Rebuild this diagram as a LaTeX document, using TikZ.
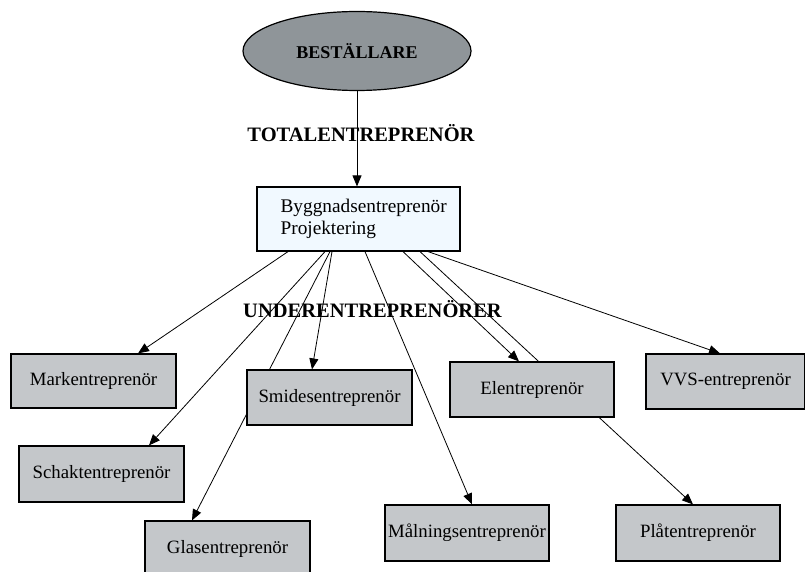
\documentclass[tikz,border=0pt]{standalone}
\usepackage{fontspec}
\setmainfont{Liberation Serif}
\usetikzlibrary{arrows.meta,shapes.geometric,backgrounds}
\definecolor{ovalgray}{RGB}{143,149,153}
\definecolor{boxgray}{RGB}{196,199,202}
\definecolor{paleblue}{RGB}{241,249,255}
\tikzset{
  subbox/.style={draw=black, line width=1.2pt, fill=boxgray, minimum width=165pt,
    minimum height=55pt, inner sep=0pt, font=\fontsize{18.8pt}{22pt}\selectfont},
  heading/.style={font=\bfseries\fontsize{20.5pt}{24pt}\selectfont, inner sep=0pt},
  link/.style={line width=0.8pt},
  linkarrow/.style={link, -{Triangle[length=11pt,width=9pt]}},
}
\begin{document}
\begin{tikzpicture}[x=1pt,y=-1pt]
\useasboundingbox (0,0) rectangle (805,572);
\clip (0,0) rectangle (805,572);

% client and main contractor
\node[ellipse, draw, line width=1.2pt, fill=ovalgray, minimum width=228pt,
  minimum height=79pt, inner sep=0pt,
  font=\bfseries\fontsize{18pt}{20pt}\selectfont] (best) at (357,51) {BESTÄLLARE};
\node[heading] (total) at (361,133) {TOTALENTREPRENÖR};
\node[draw, line width=1.2pt, fill=paleblue, minimum width=203pt,
  minimum height=64pt, inner sep=0pt] (bygg) at (358.5,219) {};
\node[anchor=west, align=left, inner sep=0pt,
  font=\fontsize{19.3pt}{22pt}\selectfont] (byggtext) at ([xshift=24pt]bygg.west)
  {Byggnadsentreprenör\\Projektering};
\node[heading] (under) at (372.5,309) {UNDERENTREPRENÖRER};

% subcontractors
\node[subbox, minimum height=54pt] (mark) at (93.5,381) {Markentreprenör};
\node[subbox, minimum height=56pt] (schakt) at (101.5,474) {Schaktentreprenör};
\node[subbox, minimum height=56pt] (glas) at (227.5,549) {Glasentreprenör};
\node[subbox] (smides) at (329.5,397.5) {Smidesentreprenör};
\node[subbox, minimum width=164pt, minimum height=56pt] (maln) at (467,533) {Målningsentreprenör};
\node[subbox, minimum width=164pt] (elen) at (532,389.5) {Elentreprenör};
\node[subbox, minimum width=159pt] (vvs) at (725.5,381.5) {VVS-entreprenör};
\node[subbox, minimum width=164pt, minimum height=56pt] (plat) at (698,533) {Plåtentreprenör};

% connectors, kept behind the boxes
\begin{pgfonlayer}{background}
\draw[linkarrow] (best.south) -- (best.south |- bygg.north);
\draw[linkarrow] (288,0 |- bygg.south) -- (138,0 |- mark.north);
\draw[linkarrow] (325,0 |- bygg.south) -- (149,0 |- schakt.north);
\draw[linkarrow] (330,0 |- bygg.south) -- (192,0 |- glas.north);
\draw[linkarrow] (332,0 |- bygg.south) -- (312,0 |- smides.north);
\draw[linkarrow] (365,0 |- bygg.south) -- (472,0 |- maln.north);
\draw[linkarrow] (403,0 |- bygg.south) -- (519,0 |- elen.north);
\draw[linkarrow] (420,0 |- bygg.south) -- (693,0 |- plat.north);
\draw[linkarrow] (428,0 |- bygg.south) -- (720,0 |- vvs.north);
\end{pgfonlayer}
\end{tikzpicture}
\end{document}
